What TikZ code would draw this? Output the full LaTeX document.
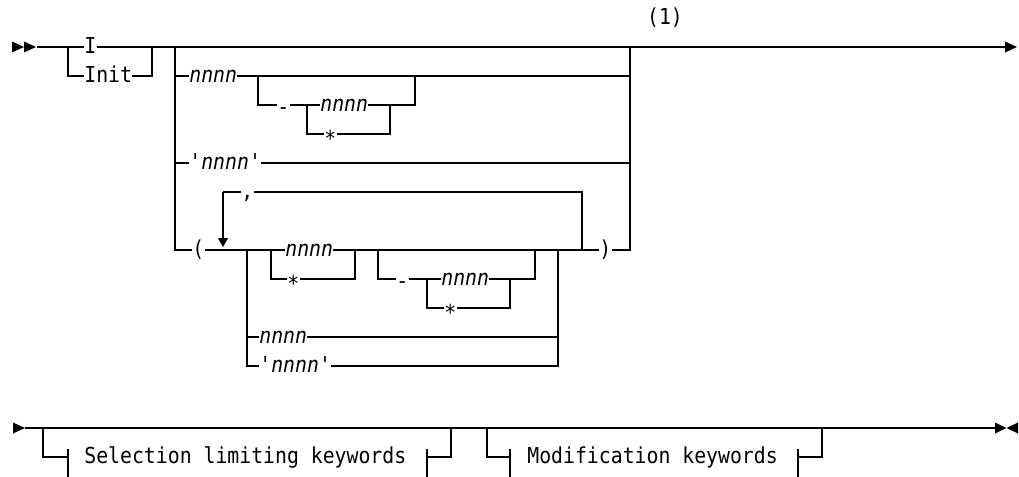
\documentclass[tikz,border=0pt]{standalone}
\usepackage{fontspec}
\setmonofont{DejaVu Sans Mono}[FakeStretch=0.9]
\usepackage{tikz}
\usetikzlibrary{arrows.meta}

\newcommand{\railfont}{\ttfamily\fontsize{11}{13}\selectfont}

\begin{document}
\begin{tikzpicture}[
  x=0.5pt, y=-0.5pt,
  font=\railfont,
  rail/.style={line width=0.55pt},
  kw/.style={anchor=west, inner sep=0pt, text height=8pt, text depth=1.5pt},
  var/.style={kw, font=\railfont\itshape},
  endtip/.style={-{Triangle[length=6pt,width=5.4pt]}},
  looptip/.style={-{Triangle[length=4.5pt,width=5pt]}},
]
\useasboundingbox (0,0) rectangle (1019,477);
% start of the statement
\fill (12,41.5) -- (24,47) -- (12,52.5) -- cycle;
\fill (24,41.5) -- (36,47) -- (24,52.5) -- cycle;
\coordinate (a0) at (37,47);
% I / Init
\coordinate (ia) at (68,47);
\coordinate (ib) at (152,47);
\node[kw] (i) at (84,47) {I};
\node[kw] (init) at (84,76) {Init};
\draw[rail] (a0) -- (ia) -- (i.west) (i.east) -- (ib);
\draw[rail] (ia) |- (init.west) (init.east) -| (ib);
% big choice
\coordinate (ba) at (175,47);
\coordinate (bb) at (630,47);
\coordinate (e1) at (1017,47);
\draw[rail] (ib) -- (ba) -- (bb);
\draw[rail,endtip] (bb) -- (e1);
\node[inner sep=0pt] (note) at (665,18) {(1)};
% nnnn [- nnnn|*]
\node[var] (n1) at (189,76) {nnnn};
\coordinate (r2a) at (258,76);
\coordinate (r2b) at (415,76);
\node[kw] (dash1) at (277,105) {\raisebox{-1.3pt}{-}};
\coordinate (g1a) at (307,105);
\coordinate (g1b) at (390,105);
\node[var] (n2) at (320,105) {nnnn};
\node[kw] (st1) at (324,134) {\raisebox{-3pt}{*}};
\draw[rail] (ba) |- (n1.west);
\draw[rail] (n1.east) -- (bb |- n1.east);
\draw[rail] (r2a) |- (dash1.west);
\draw[rail] (dash1.east) -- (g1a) -- (n2.west);
\draw[rail] (n2.east) -- (g1b) -- (r2b |- g1b) -- (r2b);
\draw[rail] (g1a) |- (st1.west);
\draw[rail] (st1.east) -| (g1b);
% 'nnnn'
\node[kw] (q1) at (189,163) {'\textit{nnnn}'};
\draw[rail] (ba) |- (q1.west);
\draw[rail] (q1.east) -- (bb |- q1.east);
% ( list )
\node[kw] (lp) at (192,250) {(};
\node[kw] (rp) at (599,250) {)};
\coordinate (la) at (223,192);
\coordinate (lt) at (223,247);
\node[kw] (sep) at (241,192) {,};
\coordinate (lb) at (582,250);
\coordinate (ga) at (247,250);
\coordinate (gb) at (558,250);
\draw[rail] (ba) |- (lp.west);
\draw[rail] (lp.east) -- (ga);
\draw[rail] (gb) -- (rp.west);
\draw[rail] (rp.east) -| (bb);
\draw[rail] (lb) |- (sep.east);
\draw[rail] (sep.west) -- (la);
\draw[rail,looptip] (la) -- (lt);
% nnnn|*
\coordinate (pa) at (271,250);
\coordinate (pb) at (355,250);
\node[var] (n3) at (285,250) {nnnn};
\node[kw] (st2) at (287,279) {\raisebox{-3pt}{*}};
\draw[rail] (ga) -- (n3.west);
\draw[rail] (n3.east) -- (pb);
\draw[rail] (pa) |- (st2.west);
\draw[rail] (st2.east) -| (pb);
% [- nnnn|*]
\coordinate (qa) at (378,250);
\coordinate (qb) at (535,250);
\coordinate (ha) at (427,279);
\coordinate (hb) at (510,279);
\node[kw] (dash2) at (396,279) {\raisebox{-1.3pt}{-}};
\node[var] (n4) at (441,279) {nnnn};
\node[kw] (st3) at (444,308) {\raisebox{-3pt}{*}};
\draw[rail] (pb) -- (qa) -- (qb) -- (gb);
\draw[rail] (qa) |- (dash2.west);
\draw[rail] (dash2.east) -- (ha) -- (n4.west);
\draw[rail] (n4.east) -- (hb) -- (qb |- hb) -- (qb);
\draw[rail] (ha) |- (st3.west);
\draw[rail] (st3.east) -| (hb);
% nnnn / 'nnnn'
\node[var] (n5) at (259,337) {nnnn};
\node[kw] (q2) at (259,366) {'\textit{nnnn}'};
\draw[rail] (ga) |- (n5.west);
\draw[rail] (n5.east) -- (gb |- n5.east);
\draw[rail] (ga) |- (q2.west);
\draw[rail] (q2.east) -| (gb);
% second line
\fill (13,422.5) -- (25,428) -- (13,433.5) -- cycle;
\coordinate (b0) at (25,428);
\coordinate (b1) at (995,428);
\draw[rail] (b0) -- (b1);
\fill (995,422.5) -- (1006.5,428) -- (995,433.5) -- cycle;
\fill (1018,422.5) -- (1006.5,428) -- (1018,433.5) -- cycle;
% Selection limiting keywords
\coordinate (sa) at (43,428);
\coordinate (sb) at (451,428);
\coordinate (sl) at (68,457);
\coordinate (sr) at (427,457);
\node[kw] (sel) at (84,457) {Selection limiting keywords};
\draw[rail] (sa) |- (sl);
\draw[rail] (sr) -| (sb);
\draw[rail] (68,449) -- (68,477) (427,449) -- (427,477);
% Modification keywords
\coordinate (ma) at (487,428);
\coordinate (mb) at (822,428);
\coordinate (ml) at (510,457);
\coordinate (mr) at (798,457);
\node[kw] (mod) at (527,457) {Modification keywords};
\draw[rail] (ma) |- (ml);
\draw[rail] (mr) -| (mb);
\draw[rail] (510,449) -- (510,477) (798,449) -- (798,477);
\end{tikzpicture}
\end{document}
